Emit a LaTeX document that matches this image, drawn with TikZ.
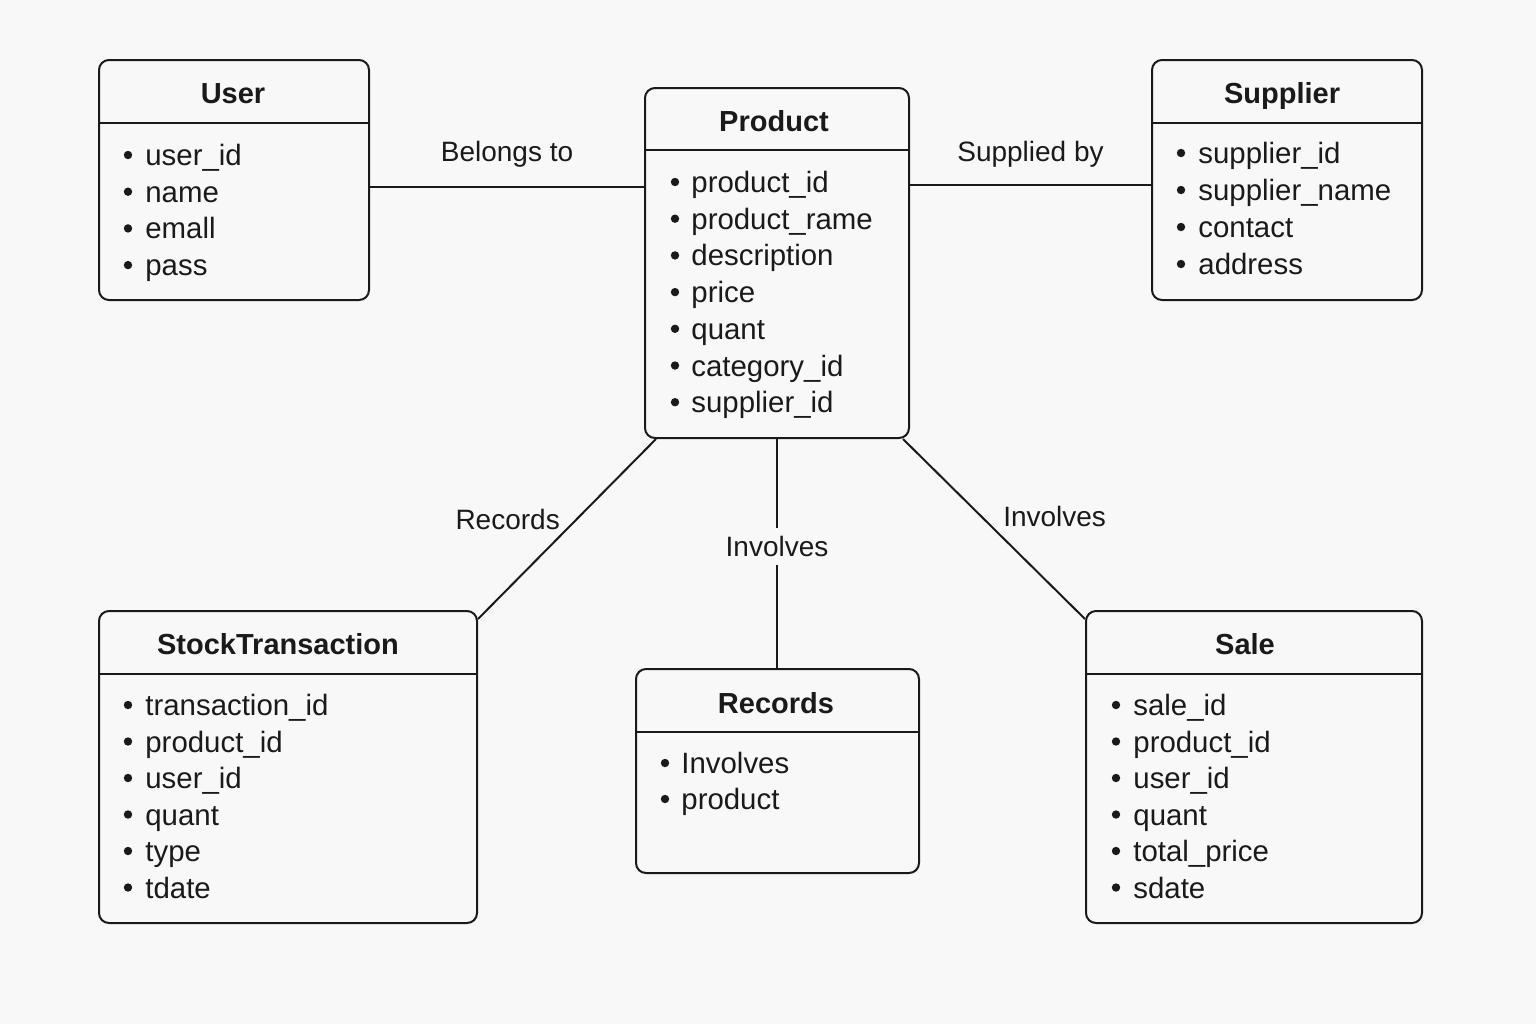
\documentclass[tikz,border=0pt]{standalone}
\usepackage{fontspec}
\setmainfont{Liberation Sans}
\definecolor{paper}{HTML}{F8F8F8}
\definecolor{ink}{HTML}{1A1A1A}

\begin{document}
\begin{tikzpicture}[x=0.5pt,y=-0.5pt]
\tikzstyle{entity}=[draw=ink,line width=1pt,rounded corners=5pt,fill=paper,anchor=north west,inner sep=0pt]
\tikzstyle{title}=[font=\bfseries\fontsize{14.5}{17}\selectfont,text=ink,anchor=base,inner sep=0pt]
\tikzstyle{field}=[font=\fontsize{14.7}{17}\selectfont,text=ink,anchor=base west,inner sep=0pt]
\tikzstyle{rel}=[font=\fontsize{14}{17}\selectfont,text=ink,inner sep=0pt]

\fill[paper] (0,0) rectangle (1536,1024);
\useasboundingbox (0,0) rectangle (1536,1024);

% entities
\node[entity,minimum width=135pt,minimum height=120pt] (user) at (98,59) {};
\node[entity,minimum width=132pt,minimum height=175pt] (product) at (644,87) {};
\node[entity,minimum width=135pt,minimum height=120pt] (supplier) at (1151,59) {};
\node[entity,minimum width=189pt,minimum height=156pt] (stock_transaction) at (98,610) {};
\node[entity,minimum width=141.5pt,minimum height=102pt] (records) at (635,668) {};
\node[entity,minimum width=168pt,minimum height=156pt] (sale) at (1085,610) {};

\draw[ink,line width=1pt] (user.west |- 0,123) -- (user.east |- 0,123);
\draw[ink,line width=1pt] (product.west |- 0,150) -- (product.east |- 0,150);
\draw[ink,line width=1pt] (supplier.west |- 0,123) -- (supplier.east |- 0,123);
\draw[ink,line width=1pt] (stock_transaction.west |- 0,674) -- (stock_transaction.east |- 0,674);
\draw[ink,line width=1pt] (records.west |- 0,732) -- (records.east |- 0,732);
\draw[ink,line width=1pt] (sale.west |- 0,674) -- (sale.east |- 0,674);

\node[title] (user_title) at (233,103.5) {User};
\node[title] (product_title) at (774,131.5) {Product};
\node[title] (supplier_title) at (1282,103.5) {Supplier};
\node[title] (stock_transaction_title) at (278,654.5) {StockTransaction};
\node[title] (records_title) at (776,713.5) {Records};
\node[title] (sale_title) at (1245,654.5) {Sale};

% fields
\foreach \f [count=\i from 0] in {user\_id,name,emall,pass} {
  \fill[ink] (128,155+36.7*\i) circle (2.1pt);
  \node[field] (user_f\i) at (145,165.5+36.7*\i) {\f};
}
\foreach \f [count=\i from 0] in {product\_id,product\_rame,description,price,quant,category\_id,supplier\_id} {
  \fill[ink] (675,182+36.7*\i) circle (2.1pt);
  \node[field] (product_f\i) at (691,192.5+36.7*\i) {\f};
}
\foreach \f [count=\i from 0] in {supplier\_id,supplier\_name,contact,address} {
  \fill[ink] (1181,153+37*\i) circle (2.1pt);
  \node[field] (supplier_f\i) at (1198,163.5+37*\i) {\f};
}
\foreach \f [count=\i from 0] in {transaction\_id,product\_id,user\_id,quant,type,tdate} {
  \fill[ink] (128,705+36.5*\i) circle (2.1pt);
  \node[field] (stock_transaction_f\i) at (145,715.5+36.5*\i) {\f};
}
\foreach \f [count=\i from 0] in {Involves,product} {
  \fill[ink] (665,763+36*\i) circle (2.1pt);
  \node[field] (records_f\i) at (681,773.5+36*\i) {\f};
}
\foreach \f [count=\i from 0] in {sale\_id,product\_id,user\_id,quant,total\_price,sdate} {
  \fill[ink] (1116,705+36.5*\i) circle (2.1pt);
  \node[field] (sale_f\i) at (1133,715.5+36.5*\i) {\f};
}

% relations
\path[ink,line width=1pt]
  (user.east |- 0,187) edge node[rel,midway,above=9.5pt] (belongs_to) {Belongs to} (product.west |- 0,187)
  (product.east |- 0,185) edge node[rel,midway,above=8.5pt] (supplied_by) {Supplied by} (supplier.west |- 0,185)
  ([xshift=6pt]product.south west) edge node[rel,pos=0.445,left=8pt] (records_rel) {Records} ([yshift=-4.5pt]stock_transaction.north east)
  (product.south) edge node[rel,pos=0.47,fill=paper,inner sep=4pt] (involves_mid) {Involves} (product.south |- records.north)
  ([xshift=-3.5pt]product.south east) edge node[rel,pos=0.43,right=10.5pt] (involves_right) {Involves} ([yshift=-4.5pt]sale.north west)
;
\end{tikzpicture}
\end{document}
